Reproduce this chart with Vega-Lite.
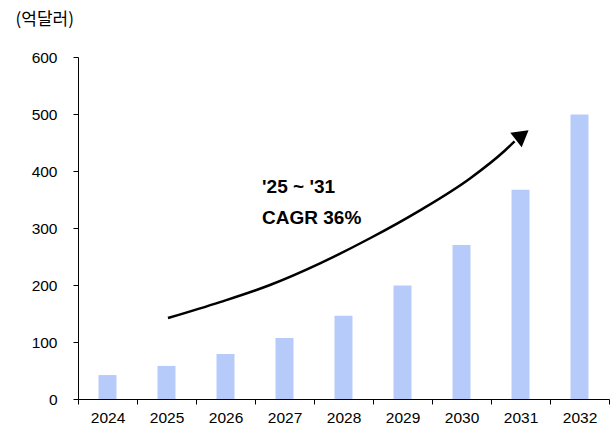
{
  "$schema": "https://vega.github.io/schema/vega-lite/v6.json",
  "width": 531,
  "height": 342,
  "autosize": {"type": "none"},
  "padding": {"left": 78, "top": 57, "right": 7, "bottom": 31},
  "background": "white",
  "config": {"view": {"stroke": null}, "font": "Liberation Sans, Arial"},
  "datasets": {
    "bars": [
      {"year": "2024", "value": 42},
      {"year": "2025", "value": 58},
      {"year": "2026", "value": 79},
      {"year": "2027", "value": 107},
      {"year": "2028", "value": 146},
      {"year": "2029", "value": 199},
      {"year": "2030", "value": 270},
      {"year": "2031", "value": 367},
      {"year": "2032", "value": 499}
    ],
    "curve": [
      {"cx": 1.525, "cy": 142},
      {"cx": 2.407, "cy": 170},
      {"cx": 3.254, "cy": 200},
      {"cx": 4.102, "cy": 238},
      {"cx": 4.949, "cy": 282},
      {"cx": 5.797, "cy": 331},
      {"cx": 6.644, "cy": 387},
      {"cx": 7.237, "cy": 436},
      {"cx": 7.4, "cy": 452}
    ],
    "head": [{"cx": 7.53, "cy": 463}],
    "labels": [
      {"cx": 3.12, "cy": 372, "label": "'25 ~ '31"},
      {"cx": 3.12, "cy": 317, "label": "CAGR 36%"}
    ]
  },
  "layer": [
    {
      "data": {"name": "bars"},
      "mark": {"type": "bar", "width": 18, "color": "#b7cbfa"},
      "encoding": {
        "x": {
          "field": "year", "type": "nominal",
          "scale": {"paddingInner": 0, "paddingOuter": 0},
          "axis": {
            "title": null, "labelAngle": 0, "tickBand": "extent",
            "domainColor": "black", "tickColor": "black", "tickSize": 5,
            "labelFontSize": 15.5, "labelColor": "black", "labelPadding": 6
          }
        },
        "y": {
          "field": "value", "type": "quantitative",
          "scale": {"domain": [0, 600], "nice": false},
          "axis": {
            "values": [0, 100, 200, 300, 400, 500, 600],
            "grid": false, "domainColor": "black", "tickColor": "black", "tickSize": 5,
            "labelFontSize": 15.5, "labelColor": "black", "labelPadding": 16,
            "title": "(억달러)", "titleAngle": 0, "titleAlign": "left", "titleBaseline": "middle",
            "titleX": -63, "titleY": -38, "titleFont": "Noto Sans CJK KR", "titleFontSize": 17,
            "titleFontWeight": "normal", "titleColor": "black"
          }
        }
      }
    },
    {
      "data": {"name": "curve"},
      "mark": {"type": "line", "color": "black", "strokeWidth": 2.5, "interpolate": "monotone"},
      "encoding": {
        "x": {"field": "cx", "type": "quantitative", "scale": {"domain": [0, 9], "nice": false, "zero": false}, "axis": null},
        "y": {"field": "cy", "type": "quantitative"}
      }
    },
    {
      "data": {"name": "head"},
      "mark": {"type": "point", "shape": "triangle-up", "filled": true, "color": "black", "opacity": 1, "size": 340, "angle": 52},
      "encoding": {
        "x": {"field": "cx", "type": "quantitative", "scale": {"domain": [0, 9], "nice": false, "zero": false}, "axis": null},
        "y": {"field": "cy", "type": "quantitative"}
      }
    },
    {
      "data": {"name": "labels"},
      "mark": {"type": "text", "align": "left", "baseline": "middle", "fontSize": 19, "fontWeight": "bold", "color": "black"},
      "encoding": {
        "x": {"field": "cx", "type": "quantitative", "scale": {"domain": [0, 9], "nice": false, "zero": false}, "axis": null},
        "y": {"field": "cy", "type": "quantitative"},
        "text": {"field": "label"}
      }
    }
  ],
  "resolve": {"scale": {"x": "independent"}}
}
